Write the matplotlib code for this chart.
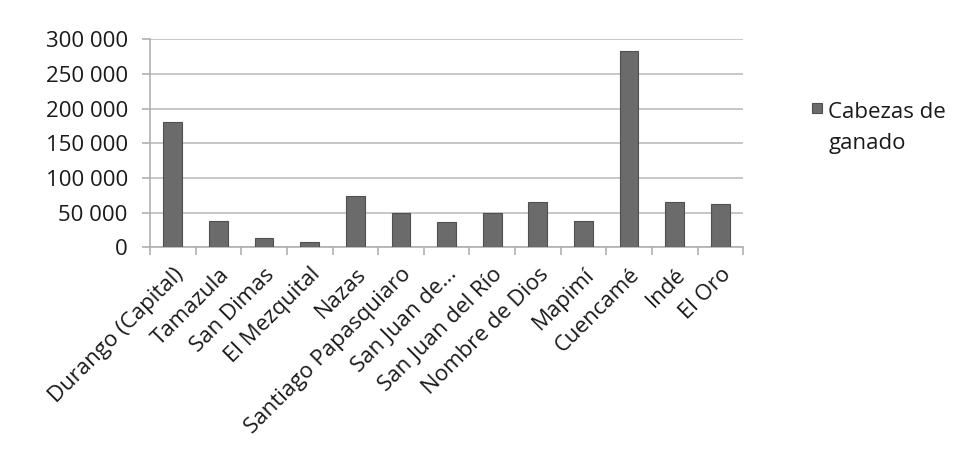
import matplotlib
matplotlib.use('Agg')
import matplotlib.pyplot as plt
from matplotlib.ticker import FuncFormatter, FixedLocator
from matplotlib.patches import Rectangle
from matplotlib.legend_handler import HandlerPatch
from matplotlib.container import BarContainer
import numpy as np

plt.rcParams['font.family'] = ['Open Sans', 'DejaVu Sans']

municipios = ['Durango (Capital)', 'Tamazula', 'San Dimas', 'El Mezquital', 'Nazas',
              'Santiago Papasquiaro', 'San Juan de...', 'San Juan del Río',
              'Nombre de Dios', 'Mapimí', 'Cuencamé', 'Indé', 'El Oro']
cabezas = [181000, 37500, 13900, 7200, 74500, 49000, 36000, 49000,
           65400, 38000, 282700, 65400, 62000]
serie = 'Cabezas de\nganado'

fig = plt.figure(figsize=(9.74, 4.62), dpi=100)
ax = fig.add_axes([0.154, 0.4647, 0.609, 0.4503])

x = np.arange(len(municipios))
ax.bar(x, cabezas, width=0.41, color='#6b6b6b', edgecolor='#505050', linewidth=0.8,
       label=serie, zorder=3)

ax.set_xlim(-0.5, len(municipios) - 0.5)
ax.set_ylim(0, 300000)
ax.set_yticks(np.arange(0, 300001, 50000))
ax.yaxis.set_major_formatter(FuncFormatter(lambda v, p: f'{int(v):,}'.replace(',', ' ')))
ax.grid(axis='y', color='#bdbdbd', linewidth=1.2, zorder=0)

ax.set_xticks(x)
ax.set_xticklabels(municipios, rotation=45, ha='right', rotation_mode='anchor')
ax.xaxis.set_minor_locator(FixedLocator(np.arange(-0.5, len(municipios), 1)))
ax.tick_params(axis='x', which='major', length=0, pad=12, labelsize=16, labelcolor='#1a1a1a')
ax.tick_params(axis='x', which='minor', length=6, color='#b0b0b0', width=1.2)
ax.tick_params(axis='y', length=6, color='#b0b0b0', width=1.2, labelsize=16,
               labelcolor='#1a1a1a', pad=10)

for s in ['top', 'right']:
    ax.spines[s].set_visible(False)
for s in ['left', 'bottom']:
    ax.spines[s].set_color('#b0b0b0')
    ax.spines[s].set_linewidth(1.2)


# legend square sits next to the first line of the label
def top_square(legend, orig_handle, xdescent, ydescent, width, height, fontsize):
    sq = 0.45 * fontsize
    return Rectangle((-xdescent, height - ydescent - sq + 0.2 * fontsize), sq, sq)


def copy_style(legend_handle, orig_handle):
    legend_handle.update_from(orig_handle.patches[0])


leg = fig.legend(loc='upper left', bbox_to_anchor=(0.8127, 0.822), frameon=False,
                 fontsize=16, handlelength=0.45, handleheight=2.6, handletextpad=0.31,
                 handler_map={BarContainer: HandlerPatch(patch_func=top_square,
                                                         update_func=copy_style)})
leg.get_texts()[0].set_linespacing(1.6)
leg.get_texts()[0].set_color('#1a1a1a')

fig.savefig('out.png', dpi=100)
